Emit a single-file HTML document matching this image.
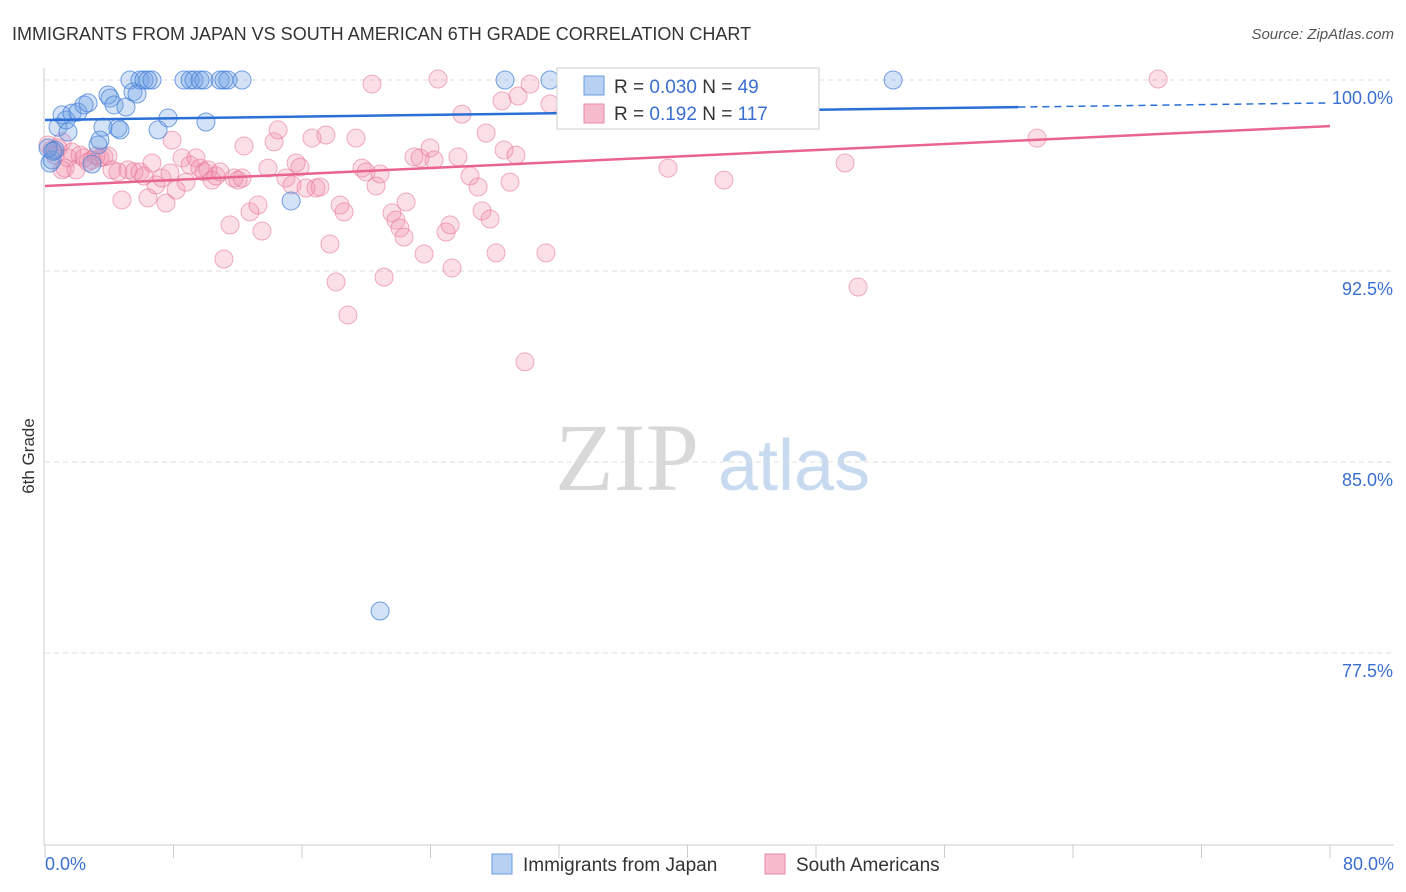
<!DOCTYPE html>
<html><head><meta charset="utf-8"><style>
body{margin:0;background:#fff;font-family:"Liberation Sans",sans-serif}
svg{display:block}
</style></head><body>
<svg id="chart" width="1406" height="892" viewBox="0 0 1406 892">
<text x="12" y="40" font-size="18" fill="#333">IMMIGRANTS FROM JAPAN VS SOUTH AMERICAN 6TH GRADE CORRELATION CHART</text>
<text x="1394" y="39" font-size="15" fill="#555" font-style="italic" text-anchor="end">Source: ZipAtlas.com</text>
<text x="34" y="456" font-size="17" fill="#333" text-anchor="middle" transform="rotate(-90 34 456)">6th Grade</text>
<g>
<text x="555" y="490" font-size="96" fill="#d8d8d8" font-family="Liberation Serif,serif">ZIP</text>
<text x="718" y="490" font-size="72" fill="#c8daf0">atlas</text>
</g>
<g id="grid"></g>
<g id="axes"></g>
<g id="points"></g>
<g id="trends"></g>
<g>
<rect x="557" y="68" width="262" height="61" fill="#fff" stroke="#ccc"/>
<rect x="584" y="76" width="20" height="19" fill="#b8d0f2" stroke="#6a9ae0"/>
<text x="614" y="93" font-size="19" fill="#333">R = <tspan fill="#3a6fd0">0.030</tspan>   N = <tspan fill="#3a6fd0">49</tspan></text>
<rect x="584" y="104" width="20" height="19" fill="#f6bccd" stroke="#e88aa8"/>
<text x="614" y="120" font-size="19" fill="#333">R =  <tspan fill="#3a6fd0">0.192</tspan>   N = <tspan fill="#3a6fd0">117</tspan></text>
</g>
<g>
<rect x="492" y="854" width="20" height="20" fill="#b8d0f2" stroke="#6a9ae0"/>
<text x="523" y="871" font-size="19" fill="#333">Immigrants from Japan</text>
<rect x="765" y="854" width="20" height="20" fill="#f6bccd" stroke="#e88aa8"/>
<text x="796" y="871" font-size="19" fill="#333">South Americans</text>
</g>
</svg>
<script>
const yTicks=[100,92.5,85,77.5];
const yTickLabels=["100.0%","92.5%","85.0%","77.5%"];
const xTickLabels=["0.0%","80.0%"];
const japanX=[0.31,0.44,0.62,0.81,1.06,1.31,1.43,1.68,2.05,2.43,2.68,2.93,3.3,3.61,3.92,4.05,4.3,4.54,4.67,5.04,5.29,5.48,5.91,6.16,6.41,6.66,7.04,7.66,8.65,9.03,9.28,9.65,9.9,10.02,10.9,11.14,11.39,12.27,15.32,20.86,28.64,31.44,37.67,42.96,52.8,5.73,0.19,3.42,0.5];
const japanY=[96.74,96.86,97.25,98.15,98.63,98.43,97.96,98.7,98.74,99.02,99.1,96.7,97.45,98.15,99.41,99.29,99.02,98.11,98.04,98.94,100,99.53,100,100,100,100,98.04,98.51,100,100,100,100,100,98.35,100,100,100,100,95.25,79.15,100,100,100,100,100,99.45,97.33,97.64,97.2];
const saX=[0.19,0.44,0.62,0.81,1.06,1.25,1.43,1.68,1.93,2.18,2.43,2.68,2.93,3.18,3.42,3.67,3.92,4.17,4.54,4.79,5.17,5.54,5.91,6.16,6.41,6.66,6.91,7.28,7.53,7.78,7.91,8.16,8.53,8.78,9.03,9.4,9.65,9.9,10.15,10.4,10.65,10.9,11.14,11.52,11.77,12.02,12.27,12.39,12.76,13.26,13.51,13.88,14.26,14.51,15.0,15.38,15.63,15.88,16.25,16.62,16.87,17.12,17.49,17.74,18.12,18.37,18.62,18.86,19.36,19.74,19.99,20.36,20.61,20.86,21.11,21.6,21.85,22.1,22.35,22.48,22.97,23.35,23.6,23.97,24.22,24.47,24.97,25.22,25.34,25.71,25.96,26.46,26.96,27.21,27.46,27.71,28.08,28.45,28.58,28.95,29.32,29.45,29.88,30.2,31.19,31.44,32.44,38.79,42.27,49.81,50.62,61.76,69.3,1.06];
const saY=[97.45,97.25,97.05,97.33,97.57,96.54,96.94,97.17,96.47,97.05,96.94,96.78,96.86,97.02,96.94,96.98,97.02,96.47,96.39,95.29,96.47,96.39,96.39,96.23,95.37,96.74,95.88,96.15,95.17,96.35,97.64,95.68,96.94,95.99,96.66,96.94,96.54,96.39,96.47,96.07,96.23,96.39,92.97,94.31,96.15,96.07,96.15,97.41,94.82,95.09,94.07,96.54,97.57,98.04,96.15,95.88,96.74,96.58,95.76,97.72,95.76,95.8,97.84,93.56,92.07,95.09,94.82,90.77,97.72,96.54,96.39,99.84,95.84,96.31,92.26,94.78,94.5,94.19,93.83,95.21,96.98,96.94,93.17,97.33,96.86,100.04,94.03,94.31,92.62,96.98,98.66,96.23,95.8,94.86,97.92,94.54,93.21,99.18,97.25,95.99,97.05,99.37,88.93,99.84,93.21,99.06,99.92,96.54,96.07,96.74,91.87,97.72,100.04,96.47];
const japanTrend=[98.43,99.1];
const saTrend=[95.84,98.19];
const NS='http://www.w3.org/2000/svg';
const xs=v=>45+v/80*1285;
const ys=v=>80+(100-v)/7.5*191;
function mk(tag,attrs,parent){const e=document.createElementNS(NS,tag);for(const k in attrs)e.setAttribute(k,attrs[k]);parent.appendChild(e);return e;}
const grid=document.getElementById('grid'),axes=document.getElementById('axes'),pts=document.getElementById('points'),tr=document.getElementById('trends');
yTicks.forEach((t,i)=>{
 const l=mk('line',{x1:45,x2:1394,y1:ys(t),y2:ys(t),stroke:'#ddd','stroke-dasharray':'5,4'},grid);
 
 
 const tx=mk('text',{x:1393,y:ys(t)+24,'font-size':18,fill:'#3a6fd0','text-anchor':'end'},axes);
 tx.textContent=yTickLabels[i];
 
 
});
const xa=mk('line',{x1:44,x2:1394,y1:845,y2:845,stroke:'#ccc'},axes);


const ya=mk('line',{x1:44,x2:44,y1:68,y2:845,stroke:'#ccc'},axes);


for(let i=0;i<=10;i++){const t=mk('line',{x1:xs(i*8),x2:xs(i*8),y1:845,y2:858,stroke:'#ccc'},axes);
 
 }
[0,80].forEach((v,i)=>{const t=mk('text',{x:i?1394:45,y:870,'font-size':18,fill:'#3a6fd0','text-anchor':i?'end':'start'},axes);
 t.textContent=xTickLabels[i];
 
 });
saX.forEach((x,i)=>{const c=mk('circle',{cx:xs(x),cy:ys(saY[i]),r:9,fill:'rgba(242,140,170,0.28)',stroke:'rgba(230,120,155,0.6)','stroke-width':1},pts);
 
 });
japanX.forEach((x,i)=>{const c=mk('circle',{cx:xs(x),cy:ys(japanY[i]),r:9,fill:'rgba(110,160,230,0.3)',stroke:'rgba(70,130,215,0.75)','stroke-width':1},pts);
 
 });
const jm=japanTrend[0]+(japanTrend[1]-japanTrend[0])*(60.6/80);
const l1=mk('line',{x1:xs(0),y1:ys(japanTrend[0]),x2:xs(60.6),y2:ys(jm),stroke:'#2a6fd6','stroke-width':2.5},tr);


const l2=mk('line',{x1:xs(60.6),y1:ys(jm),x2:xs(80),y2:ys(japanTrend[1]),stroke:'#2a6fd6','stroke-width':1.5,'stroke-dasharray':'7,5'},tr);


const l3=mk('line',{x1:xs(0),y1:ys(saTrend[0]),x2:xs(80),y2:ys(saTrend[1]),stroke:'#e8648e','stroke-width':2.5},tr);


</script>
</body></html>
